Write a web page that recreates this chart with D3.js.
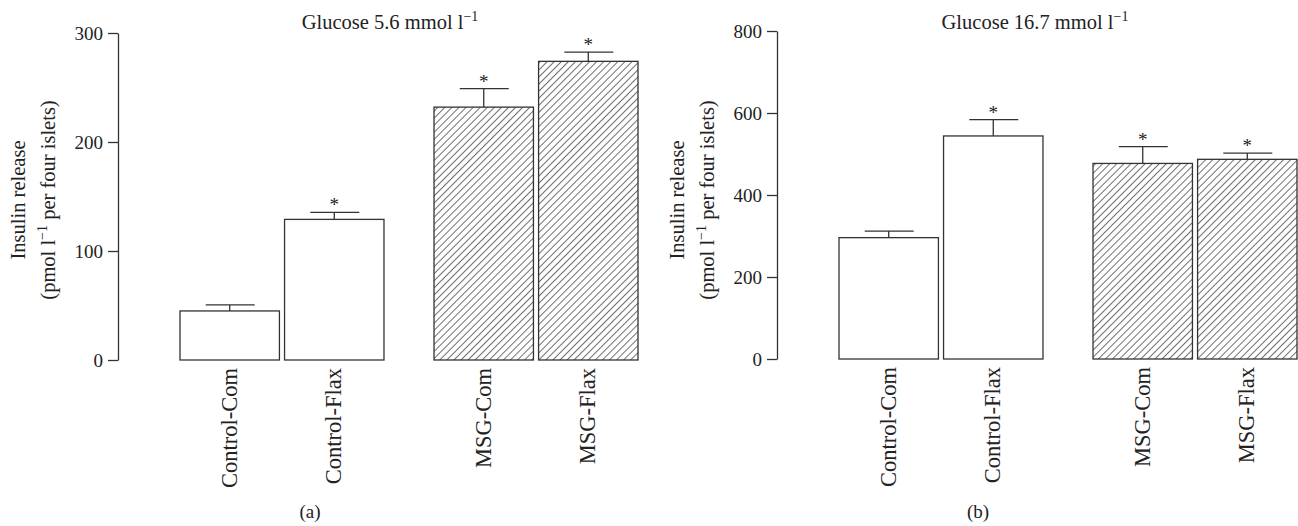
<!DOCTYPE html>
<html lang="en">
<head>
<meta charset="UTF-8">
<title>Insulin release</title>
<script src="https://d3js.org/d3.v7.min.js"></script>
<style>
    body { margin: 0; background: #fff; }
    svg { font-family: "Liberation Serif", "Times New Roman", serif; }
    .axis path, .axis line { stroke: #333; stroke-width: 1.3; }
    .axis text { font-size: 19px; fill: #222; font-family: "Liberation Serif", serif; }
    .bar { stroke: #333; stroke-width: 1.3; }
    .err { stroke: #333; stroke-width: 1.3; fill: none; }
    .lbl { fill: #222; }
</style>
</head>
<body>
<svg id="chart" width="1298" height="526"></svg>
<script>
    // categories
    const groups = ["Control", "MSG"];
    const diets = ["Com", "Flax"];
    const categories = ["Control-Com", "Control-Flax", "MSG-Com", "MSG-Flax"];

    // panel (a): glucose 5.6 mmol/l
    const meanLow = [45, 129, 232, 274];
    const semLow = [5.5, 6.5, 17, 8.5];
    const starLow = [false, true, true, true];
    const ticksLow = [0, 100, 200, 300];

    // panel (b): glucose 16.7 mmol/l
    const meanHigh = [296, 544, 477, 487];
    const semHigh = [16, 40, 41, 15];
    const starHigh = [false, true, true, true];
    const ticksHigh = [0, 200, 400, 600, 800];

    const svg = d3.select("#chart");

    // hatch pattern for MSG bars
    const defs = svg.append("defs");
    const pat = defs.append("pattern")
        .attr("id", "hatch")
        .attr("patternUnits", "userSpaceOnUse")
        .attr("width", 5).attr("height", 5)
        .attr("patternTransform", "rotate(45)");
    pat.append("rect").attr("width", 5).attr("height", 5).attr("fill", "#fff");
    pat.append("line")
        .attr("x1", 0).attr("y1", 0).attr("x2", 0).attr("y2", 5)
        .attr("stroke", "#222").attr("stroke-width", 1.3);

    function panel(opt) {
        const g = svg.append("g");
        const y = d3.scaleLinear().domain([0, opt.max]).range([opt.bottom, opt.top]);

        const gx = d3.scaleBand().domain(groups)
            .range([opt.axisX + 62, opt.axisX + 520])
            .paddingInner(0.197).paddingOuter(0);
        const dx = d3.scaleBand().domain(diets)
            .range([0, gx.bandwidth()])
            .paddingInner(0.049).paddingOuter(0);

        const rows = categories.map((c, i) => {
            const [grp, diet] = c.split("-");
            return { name: c, grp, diet, mean: opt.mean[i], sem: opt.sem[i], star: opt.star[i] };
        });

        // y axis
        g.append("g")
            .attr("class", "axis")
            .attr("transform", `translate(${opt.axisX},0)`)
            .call(d3.axisLeft(y).tickValues(opt.ticks).tickSize(10).tickSizeOuter(0).tickPadding(5))
            .call(a => a.selectAll("text").attr("dy", "0.34em"));

        const bx = d => gx(d.grp) + dx(d.diet);
        const cx = d => bx(d) + dx.bandwidth() / 2;

        // error bars (drawn first, bar tops sit over them)
        g.selectAll(".errv").data(rows).join("line")
            .attr("class", "err")
            .attr("x1", cx).attr("x2", cx)
            .attr("y1", d => y(d.mean)).attr("y2", d => y(d.mean + d.sem));
        g.selectAll(".errc").data(rows).join("line")
            .attr("class", "err")
            .attr("x1", d => cx(d) - 24).attr("x2", d => cx(d) + 25)
            .attr("y1", d => y(d.mean + d.sem)).attr("y2", d => y(d.mean + d.sem));

        // bars
        g.selectAll(".bar").data(rows).join("rect")
            .attr("class", "bar")
            .attr("x", bx)
            .attr("y", d => y(d.mean))
            .attr("width", dx.bandwidth())
            .attr("height", d => y(0) - y(d.mean))
            .attr("fill", d => d.grp === "MSG" ? "url(#hatch)" : "#fff");

        // significance stars
        g.selectAll(".star").data(rows.filter(d => d.star)).join("text")
            .attr("class", "lbl")
            .attr("x", cx)
            .attr("y", d => y(d.mean + d.sem) - 1)
            .attr("text-anchor", "middle")
            .style("font-size", "19px")
            .text("*");

        // category labels
        g.selectAll(".cat").data(rows).join("text")
            .attr("class", "lbl")
            .attr("transform", d => `translate(${cx(d) + 7},${opt.bottom + 8}) rotate(-90)`)
            .attr("text-anchor", "end")
            .style("font-size", "22.5px")
            .text(d => d.name);

        // title
        const t = g.append("text")
            .attr("class", "lbl")
            .attr("x", opt.titleX).attr("y", 29)
            .attr("text-anchor", "middle")
            .style("font-size", "20.5px");
        t.append("tspan").text(opt.title + " mmol l");
        t.append("tspan").attr("dy", -8).style("font-size", "14px").text("\u22121");

        // y label
        const yl = g.append("text")
            .attr("class", "lbl")
            .attr("transform", `translate(${opt.axisX - 93},${opt.mid}) rotate(-90)`)
            .attr("text-anchor", "middle")
            .style("font-size", "20.5px");
        yl.append("tspan").attr("x", 0).attr("dy", 0).text("Insulin release");
        const l2 = g.append("text")
            .attr("class", "lbl")
            .attr("transform", `translate(${opt.axisX - 63},${opt.mid}) rotate(-90)`)
            .attr("text-anchor", "middle")
            .style("font-size", "20.5px");
        l2.append("tspan").text("(pmol l");
        l2.append("tspan").attr("dy", -8).style("font-size", "14px").text("\u22121");
        l2.append("tspan").attr("dy", 8).text(" per four islets)");

        // panel letter
        g.append("text")
            .attr("class", "lbl")
            .attr("x", opt.letterX).attr("y", 518)
            .attr("text-anchor", "middle")
            .style("font-size", "19px")
            .text(opt.letter);
    }

    panel({
        axisX: 118, top: 33, bottom: 360, max: 300, ticks: ticksLow,
        mean: meanLow, sem: semLow, star: starLow,
        title: "Glucose 5.6", titleX: 390, mid: 200, letter: "(a)", letterX: 310
    });
    panel({
        axisX: 777, top: 31, bottom: 359, max: 800, ticks: ticksHigh,
        mean: meanHigh, sem: semHigh, star: starHigh,
        title: "Glucose 16.7", titleX: 1035, mid: 200, letter: "(b)", letterX: 978
    });
</script>
</body>
</html>
